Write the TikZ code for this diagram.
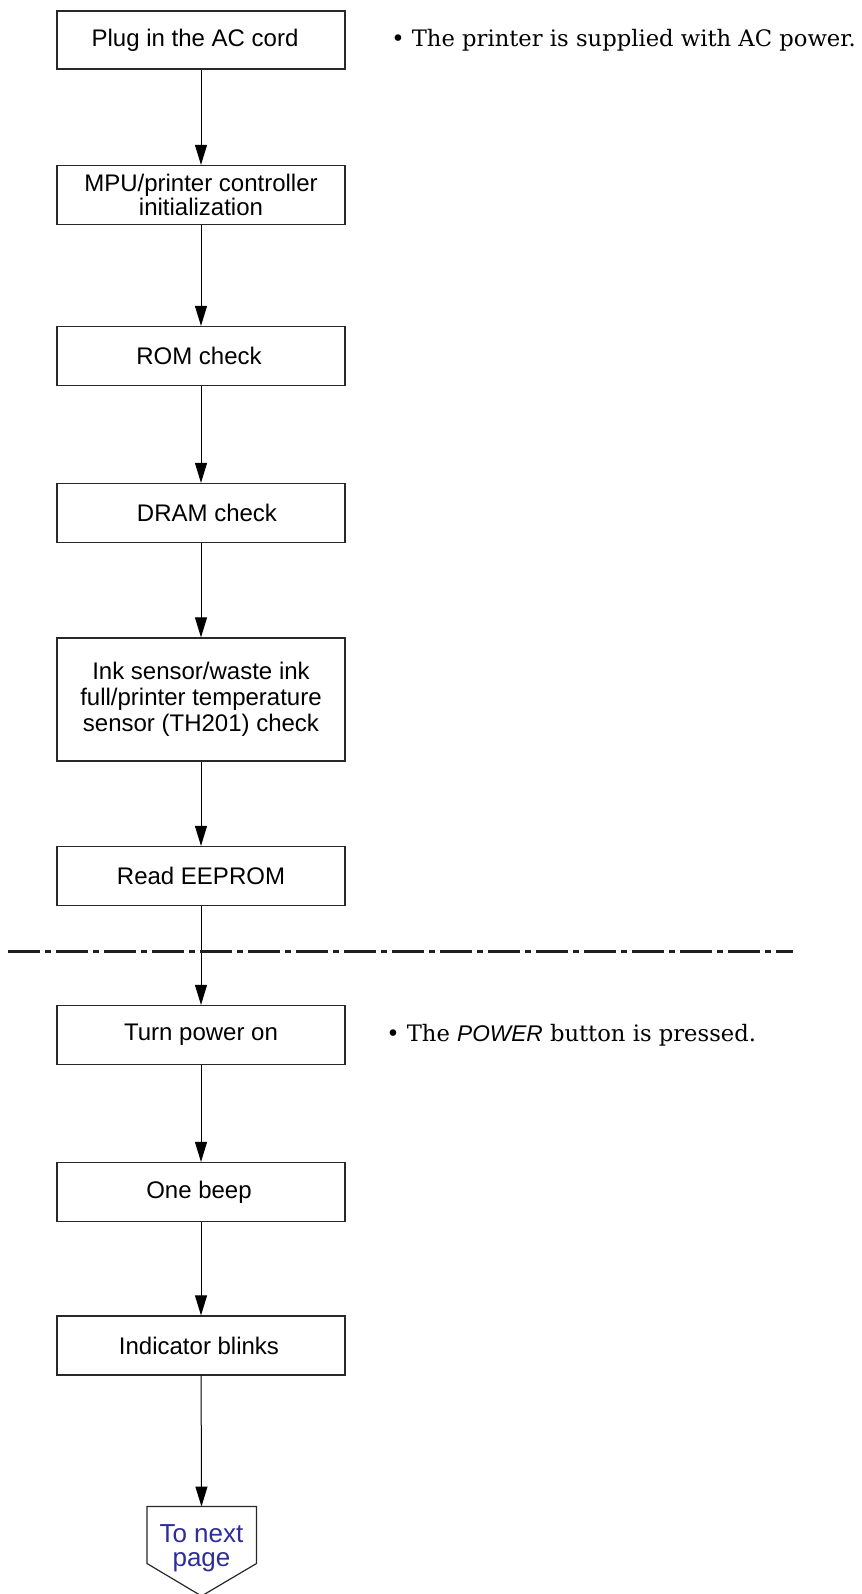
\documentclass[tikz,border=0pt]{standalone}
\usepackage{fontspec}
\setmainfont{Liberation Sans}
\newfontfamily\notefont{DejaVu Serif}
\usetikzlibrary{arrows.meta}
\definecolor{nextblue}{RGB}{45,45,155}
\definecolor{boxline}{RGB}{40,40,40}
\begin{document}
\begin{tikzpicture}[x=0.75pt,y=-0.75pt,
  box/.style={draw=boxline, line width=0.9pt, minimum width=216pt, minimum height=44.25pt,
    inner sep=0pt, align=center, font=\fontsize{18}{17.5}\selectfont},
  tallbox/.style={box, minimum height=92.25pt, font=\fontsize{18}{19.3}\selectfont},
  flow/.style={draw=black, line width=0.75pt, -{Triangle[length=15pt,width=9pt]}},
  note/.style={anchor=west, inner sep=0pt, font=\notefont\fontsize{17}{20}\selectfont},
  separator/.style={draw=black!88, line width=2pt, dash pattern=on 24pt off 3.75pt on 4.5pt off 3.75pt}]
\useasboundingbox (0,0) rectangle (861,1594);

\node[box, minimum height=43.5pt] (b1) at (201,40) {\hspace*{-9pt}Plug in the AC cord};
\node[box] (b2) at (201,195) {MPU/printer controller\\initialization};
\node[box] (b3) at (201,356) {\hspace*{-3pt}ROM check};
\node[box] (b4) at (201,513) {\hspace*{9pt}DRAM check};
\node[tallbox] (b5) at (201,699.5) {Ink sensor/waste ink\\full/printer temperature\\sensor (TH201) check};
\node[box] (b6) at (201,876) {Read EEPROM};
\node[box] (b7) at (201,1035) {Turn power on};
\node[box] (b8) at (201,1192) {\hspace*{-3pt}One beep};
\node[box] (b9) at (201,1345.5) {\hspace*{-3pt}Indicator blinks};

\node[note] (n1) at (391,40) {\textbullet\ The printer is supplied with AC power.};
\node[note] (n2) at (386,1035) {\textbullet\ The {\rmfamily\itshape POWER} button is pressed.};

\node[align=center, inner sep=0pt, text=nextblue, font=\fontsize{19.5}{18}\selectfont] (next) at (201.5,1548) {To next\\page};
\coordinate (ptop) at (201.5,1506.5);
\draw[draw=boxline, line width=0.9pt] (147,1506.5) -- (256.5,1506.5) -- (256.5,1563.5) -- (201.5,1596) -- (147,1563.5) -- cycle;

\draw[flow] (b1) -- (b2);
\draw[flow] (b2) -- (b3);
\draw[flow] (b3) -- (b4);
\draw[flow] (b4) -- (b5);
\draw[flow] (b5) -- (b6);
\draw[flow] (b6) -- (b7);
\draw[flow] (b7) -- (b8);
\draw[flow] (b8) -- (b9);
\draw[flow] (b9) -- (ptop);

\draw[separator] (8,951.5) -- (793,951.5);
\end{tikzpicture}
\end{document}
